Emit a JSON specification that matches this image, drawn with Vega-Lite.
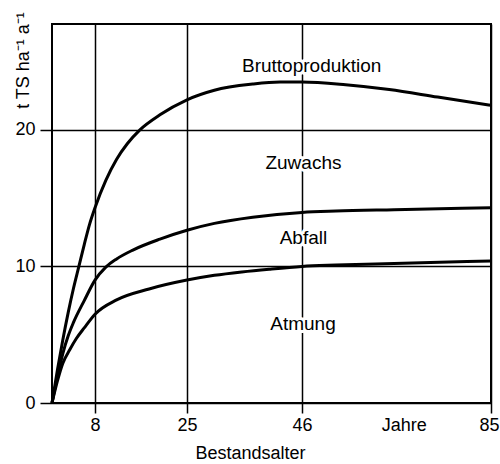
{
  "$schema": "https://vega.github.io/schema/vega-lite/v6.json",
  "width": 439,
  "height": 379,
  "autosize": {"type": "none"},
  "padding": {"left": 52, "top": 24, "right": 9, "bottom": 61},
  "background": "white",
  "config": {
    "view": {"stroke": "black", "strokeWidth": 2},
    "font": "Liberation Sans"
  },
  "datasets": {
    "curves": [
      {"series": "Brutto", "x": 0, "y": 0},
      {"series": "Brutto", "x": 1, "y": 2.4},
      {"series": "Brutto", "x": 2, "y": 4.6},
      {"series": "Brutto", "x": 3, "y": 6.6},
      {"series": "Brutto", "x": 4, "y": 8.4},
      {"series": "Brutto", "x": 5, "y": 10.0},
      {"series": "Brutto", "x": 6, "y": 11.6},
      {"series": "Brutto", "x": 7, "y": 13.1},
      {"series": "Brutto", "x": 8, "y": 14.3},
      {"series": "Brutto", "x": 10, "y": 16.3},
      {"series": "Brutto", "x": 12, "y": 17.85},
      {"series": "Brutto", "x": 14, "y": 19.0},
      {"series": "Brutto", "x": 16.3, "y": 20.0},
      {"series": "Brutto", "x": 20, "y": 21.1},
      {"series": "Brutto", "x": 25, "y": 22.2},
      {"series": "Brutto", "x": 30, "y": 22.9},
      {"series": "Brutto", "x": 37, "y": 23.35},
      {"series": "Brutto", "x": 42, "y": 23.5},
      {"series": "Brutto", "x": 46, "y": 23.5},
      {"series": "Brutto", "x": 55, "y": 23.3},
      {"series": "Brutto", "x": 64, "y": 22.95},
      {"series": "Brutto", "x": 74, "y": 22.4},
      {"series": "Brutto", "x": 85, "y": 21.8},
      {"series": "Abfall", "x": 0, "y": 0},
      {"series": "Abfall", "x": 1, "y": 1.9},
      {"series": "Abfall", "x": 2, "y": 3.6},
      {"series": "Abfall", "x": 3, "y": 4.9},
      {"series": "Abfall", "x": 4, "y": 5.9},
      {"series": "Abfall", "x": 6, "y": 7.5},
      {"series": "Abfall", "x": 8, "y": 9.0},
      {"series": "Abfall", "x": 10, "y": 9.95},
      {"series": "Abfall", "x": 12, "y": 10.55},
      {"series": "Abfall", "x": 15, "y": 11.2},
      {"series": "Abfall", "x": 20, "y": 12.0},
      {"series": "Abfall", "x": 25, "y": 12.65},
      {"series": "Abfall", "x": 30, "y": 13.15},
      {"series": "Abfall", "x": 37, "y": 13.6},
      {"series": "Abfall", "x": 46, "y": 13.95},
      {"series": "Abfall", "x": 53, "y": 14.05},
      {"series": "Abfall", "x": 65, "y": 14.15},
      {"series": "Abfall", "x": 85, "y": 14.3},
      {"series": "Atmung", "x": 0, "y": 0},
      {"series": "Atmung", "x": 1, "y": 1.6},
      {"series": "Atmung", "x": 2, "y": 2.9},
      {"series": "Atmung", "x": 3.3, "y": 3.9},
      {"series": "Atmung", "x": 4.5, "y": 4.7},
      {"series": "Atmung", "x": 6, "y": 5.5},
      {"series": "Atmung", "x": 8, "y": 6.5},
      {"series": "Atmung", "x": 12, "y": 7.55},
      {"series": "Atmung", "x": 18, "y": 8.35},
      {"series": "Atmung", "x": 25, "y": 9.0},
      {"series": "Atmung", "x": 30, "y": 9.35},
      {"series": "Atmung", "x": 35, "y": 9.6},
      {"series": "Atmung", "x": 40, "y": 9.8},
      {"series": "Atmung", "x": 46, "y": 10.0},
      {"series": "Atmung", "x": 53, "y": 10.1},
      {"series": "Atmung", "x": 65, "y": 10.22},
      {"series": "Atmung", "x": 85, "y": 10.4}
    ],
    "labels": [
      {"label": "Bruttoproduktion", "x": 48, "y": 24.7},
      {"label": "Zuwachs", "x": 46.3, "y": 17.6},
      {"label": "Abfall", "x": 46.3, "y": 12.1},
      {"label": "Atmung", "x": 46.2, "y": 5.8}
    ]
  },
  "layer": [
    {
      "data": {"name": "curves"},
      "mark": {"type": "line", "color": "black", "strokeWidth": 3, "interpolate": "monotone"},
      "encoding": {
        "x": {
          "field": "x",
          "type": "quantitative",
          "scale": {"domain": [0, 8, 25, 46, 85], "range": [0, 43, 135, 250, 439], "nice": false, "zero": false},
          "axis": {
            "values": [8, 25, 46, 67, 85],
            "labelExpr": "datum.value == 67 ? 'Jahre' : datum.label",
            "title": "Bestandsalter",
            "grid": true,
            "gridColor": {"condition": {"test": "datum.value == 67", "value": "rgba(0,0,0,0)"}, "value": "black"},
            "gridWidth": 1.5,
            "gridOpacity": 1,
            "tickColor": {"condition": {"test": "datum.value == 67", "value": "rgba(0,0,0,0)"}, "value": "black"},
            "tickWidth": 1.5,
            "tickSize": 10,
            "domain": false,
            "labelFontSize": 18,
            "labelColor": "black",
            "labelPadding": 3,
            "labelFlush": false,
            "labelOverlap": false,
            "labelOffset": {"condition": {"test": "datum.value == 85", "value": -2}, "value": 0},
            "titleFontSize": 18,
            "titleFontWeight": "normal",
            "titleColor": "black",
            "titleX": 198,
            "titleY": 41
          }
        },
        "y": {
          "field": "y",
          "type": "quantitative",
          "scale": {"domain": [0, 27.75], "nice": false},
          "axis": {
            "values": [0, 10, 20],
            "title": "t TS ha⁻¹ a⁻¹",
            "grid": true,
            "gridColor": "black",
            "gridWidth": 1.5,
            "gridOpacity": 1,
            "tickColor": "black",
            "tickWidth": 1.5,
            "tickSize": 12,
            "domain": false,
            "labelFontSize": 18,
            "labelColor": "black",
            "labelPadding": 5,
            "titleFontSize": 18,
            "titleFontWeight": "normal",
            "titleColor": "black",
            "titleAngle": -90,
            "titleAlign": "center",
            "titleBaseline": "middle",
            "titleX": -29,
            "titleY": 36
          }
        },
        "detail": {"field": "series", "type": "nominal"}
      }
    },
    {
      "data": {"name": "labels"},
      "mark": {"type": "text", "fontSize": 19, "fill": "white", "stroke": "white", "strokeWidth": 6, "strokeJoin": "round", "baseline": "middle", "align": "center"},
      "encoding": {
        "x": {"field": "x", "type": "quantitative"},
        "y": {"field": "y", "type": "quantitative"},
        "text": {"field": "label", "type": "nominal"}
      }
    },
    {
      "data": {"name": "labels"},
      "mark": {"type": "text", "fontSize": 19, "color": "black", "baseline": "middle", "align": "center"},
      "encoding": {
        "x": {"field": "x", "type": "quantitative"},
        "y": {"field": "y", "type": "quantitative"},
        "text": {"field": "label", "type": "nominal"}
      }
    }
  ]
}
